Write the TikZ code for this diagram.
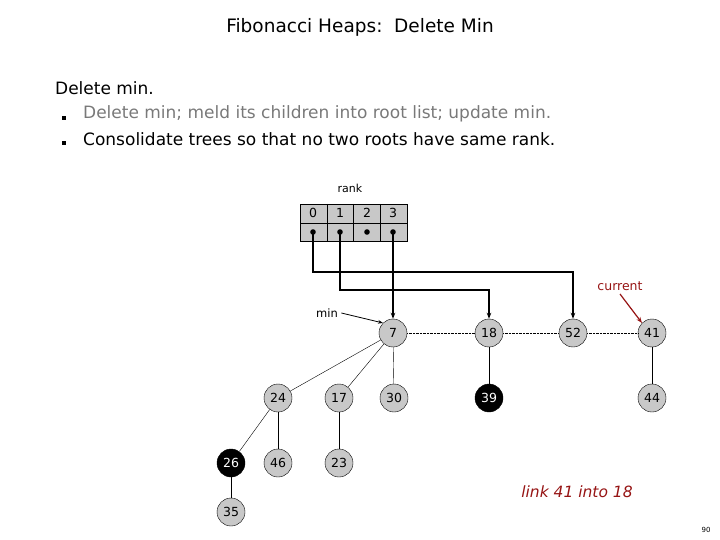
\documentclass[tikz,border=0pt]{standalone}
\usepackage{fontspec}
\setmainfont{DejaVu Sans}
\usepackage{tikz}
\usetikzlibrary{arrows.meta}
\definecolor{darkred}{RGB}{150,20,20}
\definecolor{nodegray}{RGB}{200,200,200}

\begin{document}
\begin{tikzpicture}[x=1pt, y=-1pt,
    key/.style={circle, draw, fill=nodegray, minimum size=28pt, inner sep=0pt, font=\fontsize{12.5}{12.5}\selectfont},
    marked/.style={key, fill=black, text=white},
    ptr/.style={very thick, -{Stealth[length=6pt]}}]
    \useasboundingbox (0,0) rectangle (720,540);

    \node at (360,27) {\fontsize{18.5}{18.5}\selectfont Fibonacci Heaps:\ \ Delete Min};
    \node[anchor=west, inner sep=0pt] at (55,88) {\fontsize{17}{17}\selectfont Delete min.};
    \node[anchor=west, inner sep=0pt] at (83,114) {\fontsize{17}{17}\selectfont\color{darkgray!70} Delete min; meld its children into root list; update min.};
    \node[anchor=west, inner sep=0pt] at (83,139) {\fontsize{17}{17}\selectfont Consolidate trees so that no two roots have same rank.};
    \fill (62,116) rectangle +(4,4);
    \fill (62,141) rectangle +(4,4);

    % rank table
    \node (rank) at (350,188) {\fontsize{11}{11}\selectfont rank};
    \draw[fill=nodegray] (300,204) rectangle (407,241);
    \draw (300,223) -- (407,223);
    \foreach \i/\x in {0/313,1/340,2/367,3/393} {
        \node (r\i) at (\x,213) {\fontsize{12.5}{12.5}\selectfont \i};
        \fill (\x,232) circle (2.8pt);
        \coordinate (d\i) at (\x,232);
    }
    \foreach \x in {327,353,380} \draw (\x,204) -- (\x,241);

    % roots
    \node[key] (n7) at (393,333) {7};
    \node[key] (n18) at (489,333) {18};
    \node[key] (n52) at (573,333) {52};
    \node[key] (n41) at (652,333) {41};
    \draw[densely dotted] (n7) -- (n18) -- (n52) -- (n41);

    % children
    \node[key] (n24) at (278,398) {24};
    \node[key] (n17) at (339,398) {17};
    \node[key] (n30) at (394,398) {30};
    \node[marked] (n39) at (489,398) {39};
    \node[key] (n44) at (652,398) {44};
    \node[marked] (n26) at (231,463) {26};
    \node[key] (n46) at (278,463) {46};
    \node[key] (n23) at (339,463) {23};
    \node[key] (n35) at (231,512) {35};
    \draw (n7) -- (n24);
    \draw (n7) -- (n17);
    \draw (n7) -- (n30);
    \draw (n18) -- (n39);
    \draw (n41) -- (n44);
    \draw (n24) -- (n26);
    \draw (n24) -- (n46);
    \draw (n17) -- (n23);
    \draw (n26) -- (n35);

    % pointers from rank table
    \draw[ptr] (d0) |- (573,272) -- (n52);
    \draw[ptr] (d1) |- (489,290) -- (n18);
    \draw[ptr] (d3) -- (n7);

    \node (min) at (327,313) {\fontsize{11.5}{11.5}\selectfont min};
    \draw[thick, -{Stealth[length=5pt]}] (min.east) -- (n7.north west);
    \node[text=darkred] (cur) at (620,286) {\fontsize{12.5}{12.5}\selectfont current};
    \draw[darkred, very thick, -{Stealth[length=6pt]}] (cur.south) -- (n41.north west);

    \node[text=darkred] (link) at (577,492) {\fontsize{15.5}{15.5}\selectfont\itshape link 41 into 18};
    \node at (706,530) {\fontsize{7}{7}\selectfont 90};
\end{tikzpicture}
\end{document}
